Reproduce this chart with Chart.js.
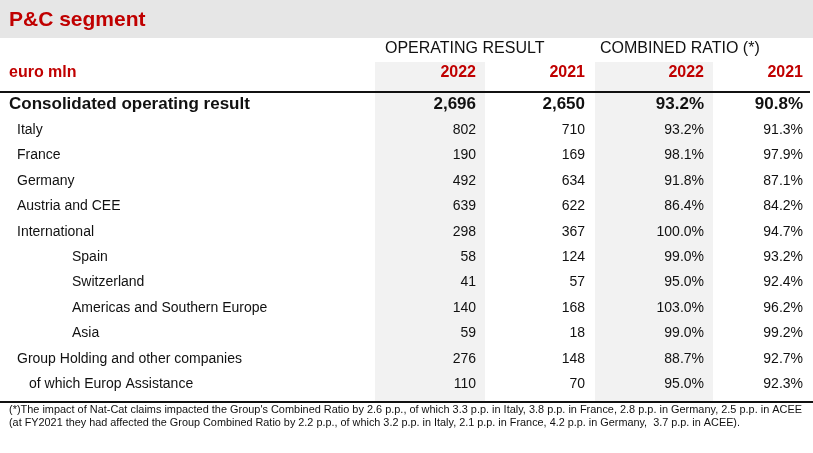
<!DOCTYPE html>
<html>
<head>
<meta charset="utf-8">
<script src="https://cdn.jsdelivr.net/npm/chart.js@4.4.1/dist/chart.umd.min.js"></script>
<style>
  html, body { margin: 0; padding: 0; background: #fff; }
  #wrap { width: 813px; height: 453px; position: relative; }
</style>
</head>
<body>
<div id="wrap"><canvas id="table"></canvas></div>
<script>
// table data
const rows = [
    'Consolidated operating result',
    'Italy',
    'France',
    'Germany',
    'Austria and CEE',
    'International',
    'Spain',
    'Switzerland',
    'Americas and Southern Europe',
    'Asia',
    'Group Holding and other companies',
    'of which Europ Assistance'
];
const rowIndent = [0, 1, 1, 1, 1, 1, 3, 3, 3, 3, 1, 2];
const opResult2022 = [2696, 802, 190, 492, 639, 298, 58, 41, 140, 59, 276, 110];
const opResult2021 = [2650, 710, 169, 634, 622, 367, 124, 57, 168, 18, 148, 70];
const combinedRatio2022 = [93.2, 93.2, 98.1, 91.8, 86.4, 100.0, 99.0, 95.0, 103.0, 99.0, 88.7, 95.0];
const combinedRatio2021 = [90.8, 91.3, 97.9, 87.1, 84.2, 94.7, 93.2, 92.4, 96.2, 99.2, 92.7, 92.3];
const years = ['2022', '2021', '2022', '2021'];
const groupHeaders = ['OPERATING RESULT', 'COMBINED RATIO (*)'];
const title = 'P&C segment';
const unitLabel = 'euro mln';
const footnote = [
    "(*)The impact of Nat-Cat claims impacted the Group's Combined Ratio by 2.6 p.p., of which 3.3 p.p. in Italy, 3.8 p.p. in France, 2.8 p.p. in Germany, 2.5 p.p. in ACEE",
    "(at FY2021 they had affected the Group Combined Ratio by 2.2 p.p., of which 3.2 p.p. in Italy, 2.1 p.p. in France, 4.2 p.p. in Germany,  3.7 p.p. in ACEE)."
];

// layout / style
const RED = '#c00000';
const FONT = "'Liberation Sans', Arial, sans-serif";
const colRight = [476, 585, 704, 803];       // right edge of each value column (x scale units)
const shadeCols = [[375, 485], [595, 713]];  // grey background of the 2022 columns
const indentPx = [9, 17, 29, 72];

const fmtInt = v => v.toLocaleString('en-US');
const fmtPct = v => v.toFixed(1) + '%';

const columns = [
    {values: opResult2022, fmt: fmtInt},
    {values: opResult2021, fmt: fmtInt},
    {values: combinedRatio2022, fmt: fmtPct},
    {values: combinedRatio2021, fmt: fmtPct}
];

const tablePlugin = {
    id: 'tablePlugin',
    beforeDatasetsDraw(chart) {
        const {ctx, scales: {x}, width} = chart;
        ctx.save();
        // title bar
        ctx.fillStyle = '#e6e6e6';
        ctx.fillRect(0, 0, width, 38);
        // shaded 2022 columns
        ctx.fillStyle = '#f2f2f2';
        shadeCols.forEach(([a, b]) => {
            const x0 = x.getPixelForValue(a), x1 = x.getPixelForValue(b);
            ctx.fillRect(x0, 62, x1 - x0, 401 - 62);
        });
        ctx.restore();
    },
    afterDatasetsDraw(chart) {
        const {ctx, scales: {x, y}, width} = chart;
        ctx.save();
        ctx.textBaseline = 'middle';

        // title
        ctx.fillStyle = RED;
        ctx.font = 'bold 21px ' + FONT;
        ctx.textAlign = 'left';
        ctx.fillText(title, 9, 20);

        // group headers
        ctx.fillStyle = '#111';
        ctx.font = '16px ' + FONT;
        ctx.fillText(groupHeaders[0], x.getPixelForValue(385), 49);
        ctx.fillText(groupHeaders[1], x.getPixelForValue(600), 49);

        // unit + years
        ctx.fillStyle = RED;
        ctx.font = 'bold 16px ' + FONT;
        ctx.fillText(unitLabel, 9, 73);
        ctx.textAlign = 'right';
        years.forEach((yr, i) => ctx.fillText(yr, x.getPixelForValue(colRight[i]), 73));

        // row labels
        ctx.fillStyle = '#111';
        ctx.textAlign = 'left';
        rows.forEach((r, i) => {
            ctx.font = (i === 0 ? 'bold 17px ' : '14px ') + FONT;
            ctx.fillText(r, indentPx[rowIndent[i]], y.getPixelForValue(i));
        });

        // values, from dataset elements
        ctx.textAlign = 'right';
        chart.data.datasets.forEach((ds, k) => {
            const meta = chart.getDatasetMeta(k);
            meta.data.forEach((pt, i) => {
                ctx.font = (i === 0 ? 'bold 17px ' : '14px ') + FONT;
                ctx.fillText(columns[k].fmt(columns[k].values[i]), pt.x, pt.y);
            });
        });

        // rules
        ctx.strokeStyle = '#111';
        ctx.lineWidth = 2;
        ctx.beginPath();
        ctx.moveTo(0, 92); ctx.lineTo(810, 92);
        ctx.moveTo(0, 402); ctx.lineTo(width, 402);
        ctx.stroke();

        // footnote (fitted to the original width)
        ctx.textAlign = 'left';
        ctx.font = '11px ' + FONT;
        const targets = [793, 731];
        footnote.forEach((line, i) => {
            const w = ctx.measureText(line).width;
            const sx = targets[i] / w;
            ctx.save();
            ctx.translate(9, 410 + i * 13);
            ctx.scale(sx, 1);
            ctx.fillText(line, 0, 0);
            ctx.restore();
        });
        ctx.restore();
    }
};

new Chart(document.getElementById('table'), {
    type: 'scatter',
    data: {
        datasets: columns.map((c, k) => ({
            label: years[k],
            data: c.values.map((v, i) => ({x: colRight[k], y: rows[i]})),
            pointRadius: 0
        }))
    },
    options: {
        responsive: true,
        maintainAspectRatio: false,
        animation: false,
        layout: {padding: {left: 0, right: 0, top: 92, bottom: 56}},
        plugins: {legend: {display: false}, tooltip: {enabled: false}},
        scales: {
            x: {type: 'linear', min: 0, max: 813, display: false},
            y: {type: 'category', labels: rows, offset: true, display: false}
        }
    },
    plugins: [tablePlugin]
});
</script>
</body>
</html>
